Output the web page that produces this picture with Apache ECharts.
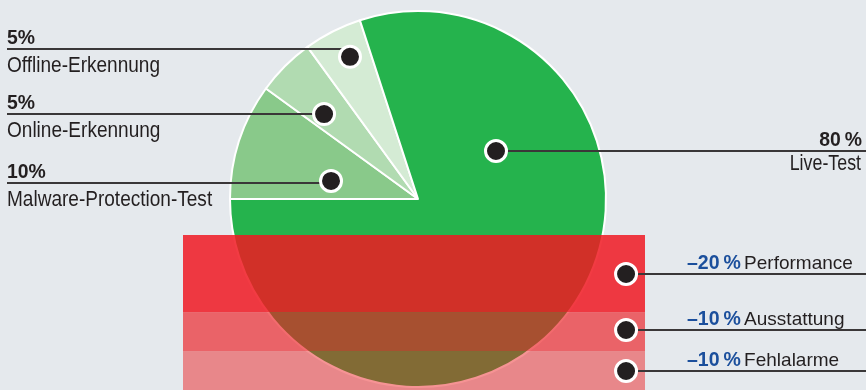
<!DOCTYPE html>
<html><head><meta charset="utf-8">
<script src="https://cdn.jsdelivr.net/npm/echarts@6/dist/echarts.min.js"></script>
<style>html,body{margin:0;padding:0;background:#e5e9ed}#c{width:866px;height:390px}</style>
</head><body><div id="c"></div>
<script>
// ---- data ----
const pieNames = ['Malware-Protection-Test', 'Online-Erkennung', 'Offline-Erkennung', 'Live-Test'];
const pieValues = [10, 5, 5, 80];
const pieValueLabels = ['10%', '5%', '5%', '80\u2009%'];
const penaltyNames = ['Performance', 'Ausstattung', 'Fehlalarme'];
const penaltyValues = [20, 10, 10];
const penaltyValueLabels = ['\u201320\u2009%', '\u201310\u2009%', '\u201310\u2009%'];

// ---- styles / layout ----
const pieColors = ['#89c98a', '#b1dbb1', '#d4ebd4', '#25b34d'];
const penaltyColors = ['rgba(240,25,34,0.85)', 'rgba(236,28,32,0.65)', 'rgba(236,25,28,0.47)'];
const CENTER = [418, 199], RADIUS = 188;
const GRID = {left: 183, top: 235, width: 462, height: 155};
const dotPolar = [[0.325, 0.47], [0.34, 0.67], [0.58, 0.834], [0.265, 0.485]];
const leftLineY = {0: 183, 1: 114, 2: 49};
const TXT = '#231f20', LINE = '#3a3738', BLUE = '#1b4f9c';
const SANS = '"Liberation Sans",Arial,sans-serif';
const CONDENSE = 0.865;

const chart = echarts.init(document.getElementById('c'), null, {renderer: 'canvas'});
const total = pieValues.reduce((a, b) => a + b, 0);
let acc = 180;
const slices = pieValues.map(v => { const a0 = acc; acc -= v / total * 360; return [a0, acc]; });
function dotPos(i) {
  const [a0, a1] = slices[i];
  const a = (a0 + (a1 - a0) * dotPolar[i][0]) * Math.PI / 180;
  const r = dotPolar[i][1] * (RADIUS + 1);
  return [CENTER[0] + r * Math.cos(a), CENTER[1] - r * Math.sin(a)];
}
const penaltyTotal = penaltyValues.reduce((a, b) => a + b, 0);

chart.setOption({
  backgroundColor: '#e5e9ed',
  animation: false,
  grid: {left: GRID.left, top: GRID.top, width: GRID.width, height: GRID.height},
  xAxis: {type: 'category', data: ['Abzug'], show: false},
  yAxis: {type: 'value', inverse: true, min: 0, max: penaltyTotal, show: false},
  series: [
    {
      type: 'pie', z: 1, silent: true,
      center: CENTER, radius: RADIUS, startAngle: 180, clockwise: true,
      label: {show: false}, labelLine: {show: false},
      itemStyle: {borderColor: '#ffffff', borderWidth: 2},
      data: pieNames.map((n, i) => ({name: n, value: pieValues[i], itemStyle: {color: pieColors[i]}}))
    },
    ...penaltyNames.map((n, i) => ({
      type: 'bar', name: n, stack: 'abzug', z: 3, silent: true,
      barWidth: '100%', data: [penaltyValues[i]],
      itemStyle: {color: penaltyColors[i]}
    }))
  ]
});

const g = [];
function dot(p) { g.push({type: 'circle', z: 30, shape: {cx: p[0], cy: p[1], r: 10.5}, style: {fill: TXT, stroke: '#fff', lineWidth: 3}}); }
function hline(x1, x2, y) { g.push({type: 'line', z: 20, shape: {x1: x1, y1: y, x2: x2, y2: y}, style: {stroke: LINE, lineWidth: 2}}); }
function txt(x, y, s, size, weight, color, align, sx) {
  g.push({type: 'text', z: 30, x: x, y: y, scaleX: sx || 1, style: {text: s, fontSize: size, fontWeight: weight, fontFamily: SANS, fill: color, align: align, verticalAlign: 'middle'}});
}
// left pie labels
[2, 1, 0].forEach(i => {
  const p = dotPos(i), ly = leftLineY[i];
  hline(7, p[0], ly);
  txt(7, ly - 11, pieValueLabels[i], 20, 'bold', TXT, 'left', 0.97);
  txt(7, ly + 16.5, pieNames[i], 22, 'normal', TXT, 'left', CONDENSE);
  dot(p);
});
// Live-Test (right)
(function () {
  const p = dotPos(3), ly = Math.round(p[1]);
  hline(p[0], 866, ly);
  txt(862, ly - 11, pieValueLabels[3], 20, 'bold', TXT, 'right', 0.97);
  txt(861, ly + 13, pieNames[3], 22, 'normal', TXT, 'right', 0.81);
  dot([p[0], ly]);
})();
// penalty labels
let cum = 0;
penaltyNames.forEach((n, i) => {
  const mid = cum + penaltyValues[i] / 2; cum += penaltyValues[i];
  const y = Math.round(chart.convertToPixel({yAxisIndex: 0}, mid)) - (i === 1 ? 2 : 0);
  const x = GRID.left + GRID.width * 0.959;
  hline(x, 866, y);
  g.push({type: 'text', z: 30, x: 687, y: y - 10.5, style: {
    text: '{b|' + penaltyValueLabels[i] + '} {n|' + n + '}', align: 'left', verticalAlign: 'middle',
    rich: {b: {fontSize: 19.5, fontWeight: 'bold', fontFamily: SANS, fill: BLUE},
           n: {fontSize: 19, fontFamily: SANS, fill: TXT}}
  }});
  dot([x, y]);
});
chart.setOption({graphic: {elements: g}});
</script>
</body></html>
